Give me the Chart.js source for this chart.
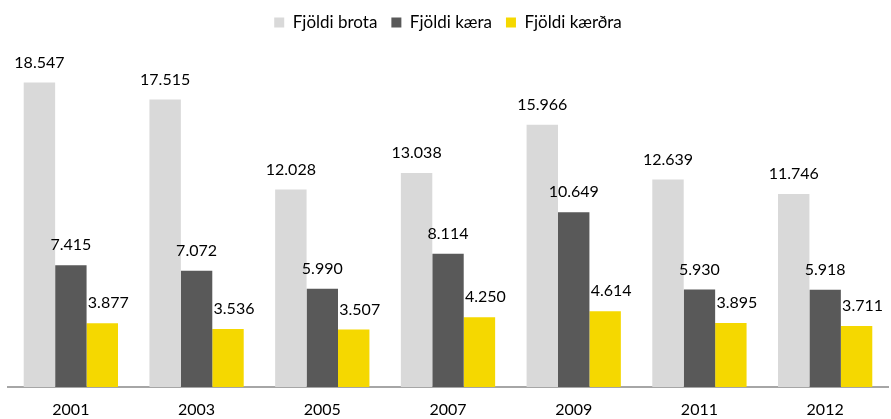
<!DOCTYPE html>
<html>
<head>
<meta charset="utf-8">
<script src="https://cdn.jsdelivr.net/npm/chart.js@4"></script>
<style>
  body { margin: 0; background: #fff; }
</style>
</head>
<body>
<canvas id="myChart" width="891" height="419"></canvas>
<script>
// Sample data
var years = ["2001", "2003", "2005", "2007", "2009", "2011", "2012"];
var brot = [18547, 17515, 12028, 13038, 15966, 12639, 11746];
var kaerur = [7415, 7072, 5990, 8114, 10649, 5930, 5918];
var kaerdir = [3877, 3536, 3507, 4250, 4614, 3895, 3711];

var fontFamily = "Lato, 'Open Sans', sans-serif";

// Number format with dots, e.g. 18.547
function fmt(v) {
    return String(v).replace(/\B(?=(\d{3})+(?!\d))/g, '.');
}

// Draw value labels above the bars
var valueLabels = {
    id: 'valueLabels',
    afterDatasetsDraw: function(chart) {
        var ctx = chart.ctx;
        ctx.save();
        ctx.font = '16px ' + fontFamily;
        ctx.fillStyle = '#000';
        ctx.textAlign = 'center';
        ctx.textBaseline = 'middle';
        chart.data.datasets.forEach(function(ds, i) {
            var meta = chart.getDatasetMeta(i);
            var shift = i === 2 ? 6 : 0;
            meta.data.forEach(function(bar, j) {
                ctx.fillText(fmt(ds.data[j]), bar.x + shift, bar.y - 20);
            });
        });
        ctx.restore();
    }
};

var data = {
    labels: years,
    datasets: [{
        label: "Fjöldi brota",
        data: brot,
        backgroundColor: '#d9d9d9'
    },
    {
        label: "Fjöldi kæra",
        data: kaerur,
        backgroundColor: '#595959'
    },
    {
        label: "Fjöldi kærðra",
        data: kaerdir,
        backgroundColor: '#f5d800'
    }]
};

var options = {
    responsive: false,
    animation: false,
    layout: {
        padding: { left: 8, right: 3, top: 0, bottom: 0 }
    },
    datasets: {
        bar: {
            categoryPercentage: 0.75,
            barPercentage: 1.0
        }
    },
    plugins: {
        legend: {
            position: 'top',
            labels: {
                boxWidth: 10,
                boxHeight: 10,
                padding: 14,
                color: '#000',
                font: { family: fontFamily, size: 17 }
            }
        },
        tooltip: { enabled: false }
    },
    scales: {
        x: {
            grid: { display: false },
            border: { display: true, color: '#a6a6a6', width: 2 },
            ticks: {
                color: '#000',
                padding: 5,
                font: { family: fontFamily, size: 16 }
            },
            afterFit: function(scale) {
                scale.height = 32;
            }
        },
        y: {
            display: false,
            min: 0,
            max: 21070
        }
    }
};

var ctx = document.getElementById('myChart').getContext('2d');
var myChart = new Chart(ctx, {
    type: 'bar',
    data: data,
    options: options,
    plugins: [valueLabels]
});
</script>
</body>
</html>
